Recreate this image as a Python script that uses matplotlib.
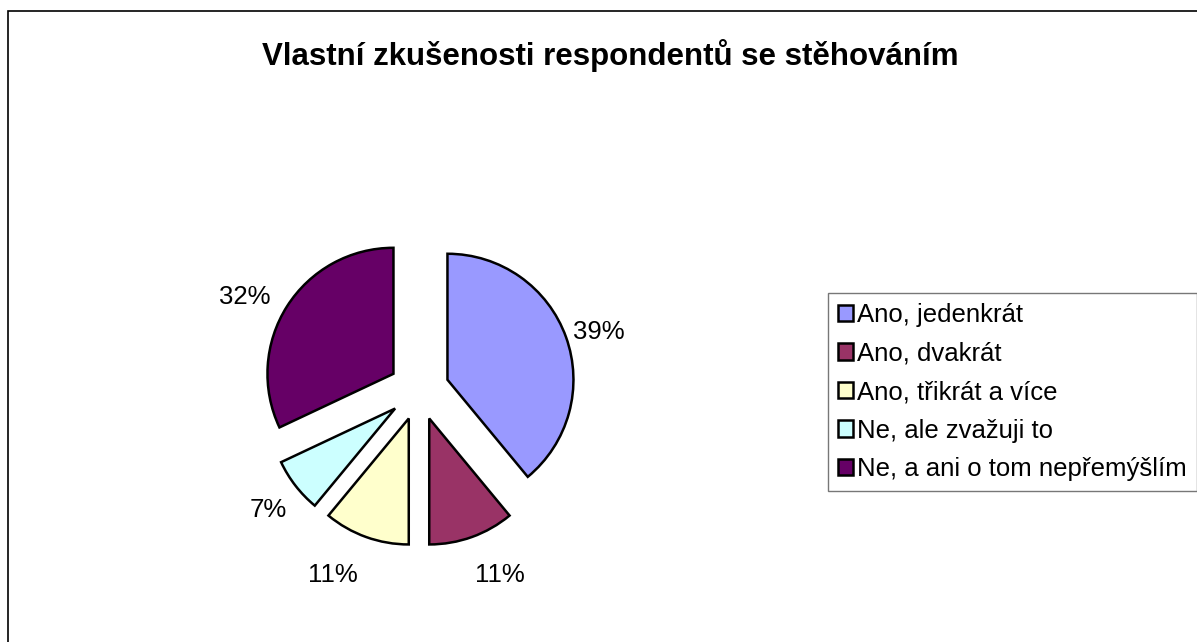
import matplotlib.pyplot as plt
from matplotlib.patches import Rectangle

plt.rcParams['font.family'] = ['Liberation Sans', 'DejaVu Sans']

# data
categories = ['Ano, jedenkrát', 'Ano, dvakrát', 'Ano, třikrát a více',
              'Ne, ale zvažuji to', 'Ne, a ani o tom nepřemýšlím']
shares = [39, 11, 11, 7, 32]
colors = ['#9999FF', '#993366', '#FFFFCC', '#CCFFFF', '#660066']
title = 'Vlastní zkušenosti respondentů se stěhováním'

# label nudges (px) to mimic Excel's outside label placement
label_nudge = [(0, -7), (16, -5), (-21, -5), (1, -3), (-13, -10)]

W, H = 1197, 642
fig = plt.figure(figsize=(W / 100, H / 100), dpi=100)

# chart frame
fig.patches.append(Rectangle((8 / W, -0.1), 2, 1 - 11 / H + 0.1, transform=fig.transFigure,
                             fill=False, edgecolor='black', linewidth=1.2))

fig.text(610 / W, 1 - 56 / H, title, ha='center', va='center',
         fontsize=22.5, fontweight='bold')

# pie axes: centre at (419, 390) px, radius 126 px
size = 400
R = 126
ax = fig.add_axes([(419 - size / 2) / W, (H - 390 - size / 2) / H, size / W, size / H])

wedges, texts, autotexts = ax.pie(
    shares, colors=colors, startangle=90, counterclock=False,
    explode=[0.24] * len(shares), radius=1,
    autopct='%.0f%%', pctdistance=1.28,
    wedgeprops=dict(edgecolor='black', linewidth=1.8),
    textprops=dict(fontsize=18.5))

lim = size / 2 / R
ax.set_xlim(-lim, lim)
ax.set_ylim(-lim, lim)
ax.set_aspect('equal')
ax.axis('off')

for t, (dx, dy) in zip(autotexts, label_nudge):
    x, y = t.get_position()
    t.set_position((x + dx / R, y + dy / R))

fig.legend(wedges, categories, loc='upper left',
           bbox_to_anchor=(828 / W, 1 - 293 / H), bbox_transform=fig.transFigure,
           fontsize=18.5, frameon=True, fancybox=False, edgecolor='#555555',
           handlelength=0.6, handleheight=0.6, handletextpad=0.15,
           labelspacing=0.57, borderpad=0.38, borderaxespad=0)

fig.savefig('out.png', dpi=100)
